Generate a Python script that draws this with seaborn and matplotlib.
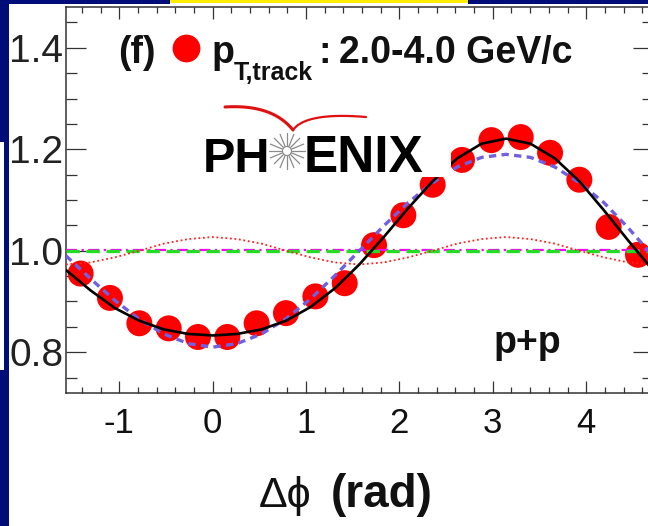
import numpy as np
import matplotlib
matplotlib.use("Agg")
import matplotlib.pyplot as plt
from matplotlib.patches import Rectangle
from matplotlib.ticker import MultipleLocator, FixedLocator
import seaborn as sns
import pandas as pd

# Two-particle correlation vs delta-phi, p+p, 2.0-4.0 GeV/c tracks
dphi_bins = [-1.414, -1.100, -0.785, -0.471, -0.157, 0.157, 0.471, 0.785, 1.100, 1.414,
             1.728, 2.042, 2.356, 2.670, 2.985, 3.299, 3.613, 3.927, 4.241, 4.555]
corr_values = [0.955, 0.907, 0.857, 0.847, 0.830, 0.830, 0.857, 0.877, 0.910, 0.936,
               1.011, 1.070, 1.130, 1.179, 1.218, 1.224, 1.193, 1.140, 1.047, 0.992]

# Fit components sampled every 15 degrees across the plotted range
curve_deg = [-90, -75, -60, -45, -30, -15, 0, 15, 30, 45, 60, 75, 90,
             105, 120, 135, 150, 165, 180, 195, 210, 225, 240, 255, 270]
fit_total = [0.962, 0.922, 0.887, 0.862, 0.845, 0.836, 0.833, 0.836, 0.845, 0.862, 0.889, 0.926, 0.973,
             1.027, 1.084, 1.137, 1.182, 1.211, 1.221, 1.211, 1.182, 1.137, 1.080, 1.020, 0.962]
fit_dipole = [0.990, 0.945, 0.902, 0.865, 0.836, 0.817, 0.810, 0.817, 0.836, 0.866, 0.905, 0.951, 1.000,
              1.049, 1.095, 1.134, 1.165, 1.184, 1.190, 1.184, 1.165, 1.134, 1.095, 1.045, 0.990]
fit_v2 = [0.973, 0.977, 0.987, 1.000, 1.014, 1.023, 1.027, 1.023, 1.014, 1.000, 0.987, 0.977, 0.973,
          0.977, 0.987, 1.000, 1.014, 1.023, 1.027, 1.023, 1.014, 1.000, 0.987, 0.977, 0.973]
pedestal_level = 1.000
flow_level = 1.002

xtick_values = [-1, 0, 1, 2, 3, 4]
ytick_values = [0.8, 1.0, 1.2, 1.4]
ytick_labels = ["0.8", "1.0", "1.2", "1.4"]

sns.set_style("ticks")
plt.rcParams["font.family"] = ["Liberation Sans", "DejaVu Sans"]
plt.rcParams["axes.unicode_minus"] = False

W, H = 648, 526
fig = plt.figure(figsize=(W / 100, H / 100), dpi=100, facecolor="white")

# main axes (right edge runs just past the canvas)
ax_l, ax_r, ax_b, ax_t = 66.0, 652.7, 392.8, 7.2
ax = fig.add_axes([ax_l / W, 1 - ax_b / H, (ax_r - ax_l) / W, (ax_b - ax_t) / H])
ax.set_facecolor("white")

pts = pd.DataFrame({"dphi": dphi_bins, "corr": corr_values})
curves = pd.DataFrame({"dphi": np.deg2rad(curve_deg), "total": fit_total,
                       "dipole": fit_dipole, "v2": fit_v2})

sns.scatterplot(data=pts, x="dphi", y="corr", ax=ax, color="#ff0000", s=350,
                edgecolor="none", linewidth=0, zorder=2, legend=False)

ax.axhline(flow_level, color="#ff00ff", lw=1.6, ls=(0, (5, 2, 1, 2)), zorder=3)
ax.axhline(pedestal_level, color="#22dd22", lw=2.4, ls=(0, (4, 2)), zorder=3)
sns.lineplot(data=curves, x="dphi", y="v2", ax=ax, color="#ff2020", lw=1.3,
             linestyle=(0, (1, 1.5)), zorder=3)
sns.lineplot(data=curves, x="dphi", y="dipole", ax=ax, color="#7060e0", lw=2.4,
             linestyle=(0, (2.2, 1.6)), zorder=4)
sns.lineplot(data=curves, x="dphi", y="total", ax=ax, color="black", lw=1.9, zorder=5)

ax.set_xlim(-np.pi / 2, 3 * np.pi / 2)
ax.set_ylim(0.72, 1.48)
ax.set_xlabel("")
ax.set_ylabel("")
ax.xaxis.set_major_locator(FixedLocator(xtick_values))
ax.xaxis.set_minor_locator(MultipleLocator(0.2))
ax.set_xticklabels([str(v) for v in xtick_values])
ax.yaxis.set_major_locator(FixedLocator(ytick_values))
ax.yaxis.set_minor_locator(MultipleLocator(0.05))
ax.set_yticklabels(ytick_labels)

ax.tick_params(axis="both", which="both", direction="in", top=True, right=True,
               color="#333333", width=0.9)
ax.tick_params(axis="x", which="major", length=8.6, labelsize=25, pad=10, labelcolor="#111111")
ax.tick_params(axis="x", which="minor", length=4.3)
ax.tick_params(axis="y", which="major", length=14.4, labelsize=28, pad=2, labelcolor="#222222")
ax.tick_params(axis="y", which="minor", length=8)
for sp in ax.spines.values():
    sp.set_color("#333333")
    sp.set_linewidth(1.1)

# overlay in pixel units for slide frame, labels and logo
ov = fig.add_axes([0, 0, 1, 1], zorder=10)
ov.set_xlim(0, W)
ov.set_ylim(H, 0)
ov.axis("off")
ov.patch.set_visible(False)

navy = "#000d78"
for (x0, y0, w, h) in [(0, 0, 9, 142), (0, 370, 9, 156), (4, 142, 5, 228),
                       (0, 0, 170, 3.5), (468, 0, 180, 3.5)]:
    ov.add_patch(Rectangle((x0, y0), w, h, facecolor=navy, edgecolor="none"))
ov.add_patch(Rectangle((170, 0), 298, 2.5, facecolor="#ffee00", edgecolor="none"))

# panel caption
ov.text(118, 63, "(f)", fontsize=27, fontweight="bold", color="#111111", va="baseline")
ov.plot([186], [48], "o", ms=20, color="#ff0000", mec="none")
ov.text(212, 63, "p", fontsize=27, fontweight="bold", color="#111111", va="baseline")
ov.text(234, 80, "T,track", fontsize=18, fontweight="bold", color="#111111", va="baseline")
ov.text(318, 63, ":", fontsize=27, fontweight="bold", color="#111111", va="baseline")
ov.text(339, 63, "2.0-4.0 GeV/c", fontsize=27, fontweight="bold", color="#111111", va="baseline")

# logo block
ov.add_patch(Rectangle((192, 98), 259, 79, facecolor="white", edgecolor="none"))
ov.text(270, 172, "PH", fontsize=35, fontweight="bold", color="black", ha="right", va="baseline")
ov.text(304, 172, "ENIX", fontsize=37, fontweight="bold", color="black", ha="left", va="baseline")
cx, cy = 287, 151
for ang in np.linspace(0, 2 * np.pi, 16, endpoint=False):
    ov.plot([cx + 5 * np.cos(ang), cx + 18 * np.cos(ang)],
            [cy + 5 * np.sin(ang), cy + 18 * np.sin(ang)], color="#8a8a8a", lw=0.9)
ov.add_patch(plt.Circle((cx, cy), 4.5, facecolor="white", edgecolor="#8a8a8a", lw=0.8))


def bezier(p0, p1, p2, n=30):
    t = np.linspace(0, 1, n)[:, None]
    pts_ = (1 - t) ** 2 * np.array(p0) + 2 * (1 - t) * t * np.array(p1) + t ** 2 * np.array(p2)
    return pts_[:, 0], pts_[:, 1]


bx, by = bezier((225, 107), (272, 104), (293, 130))
ov.plot(bx, by, color="#e01010", lw=2.2, solid_capstyle="round")
bx, by = bezier((293, 130), (306, 112), (366, 117))
ov.plot(bx, by, color="#e01010", lw=1.6, solid_capstyle="round")

ov.text(494, 353, "p+p", fontsize=27, fontweight="bold", color="#111111", va="baseline")

# x-axis title
ov.text(259, 507, "Δϕ", fontsize=31, color="#111111", va="baseline")
ov.text(331, 507, "(rad)", fontsize=33, fontweight="bold", color="#111111", va="baseline")

fig.savefig("out.png", dpi=100, facecolor="white")
